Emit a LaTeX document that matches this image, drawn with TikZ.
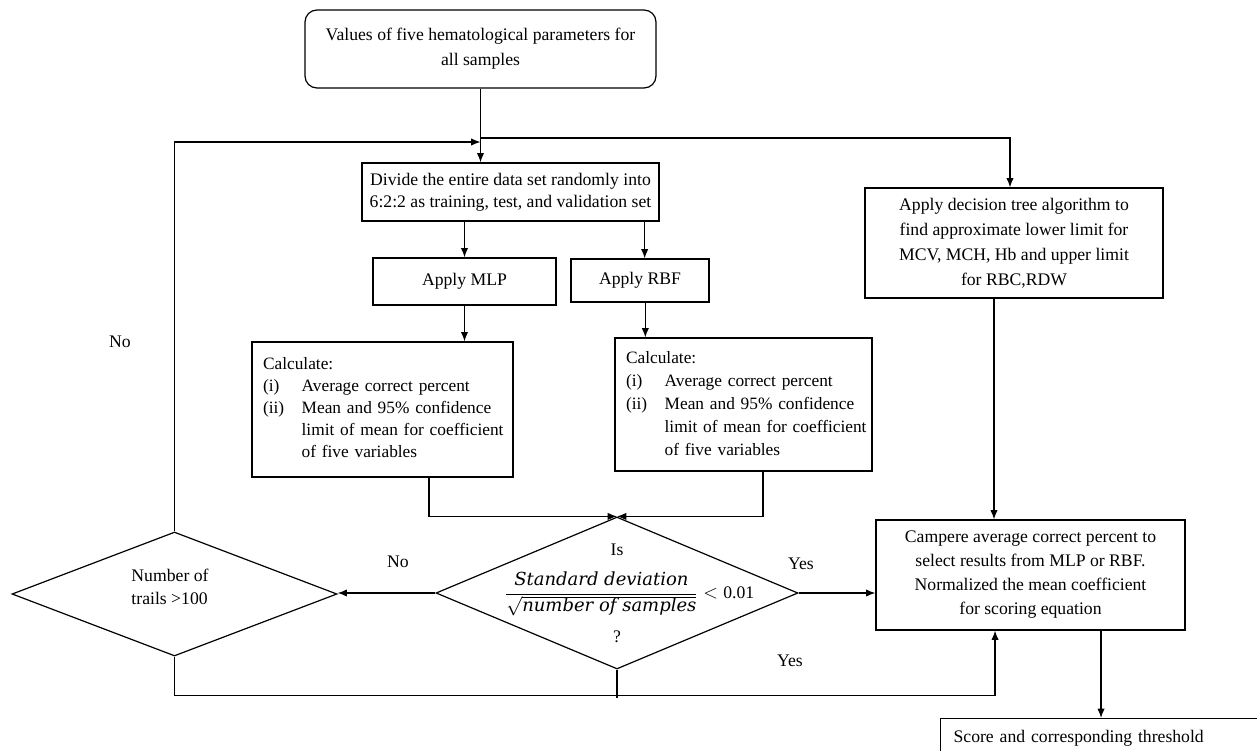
\documentclass[tikz,border=0pt]{standalone}
\usepackage{fontspec}
\setmainfont{Liberation Serif}
\newfontfamily\fracfont{DejaVu Serif}
\usetikzlibrary{arrows.meta,shapes.geometric}
\begin{document}
\begin{tikzpicture}[x=0.75pt,y=-0.75pt,
  every node/.style={font=\fontsize{13.25}{18}\selectfont},
  box/.style={draw, line width=0.9pt, inner sep=0pt, align=center},
  dia/.style={draw, diamond, line width=0.9pt, inner sep=0pt},
  arr/.style={line width=0.9pt, -{Latex[length=7pt,width=5.5pt]}},
  ln/.style={line width=0.9pt},
  lbl/.style={inner sep=0pt}]
\useasboundingbox (0,0) rectangle (1257,750);

% boxes
\node[box, rounded corners=9pt, minimum width=263.25pt, minimum height=58.5pt,
  font=\fontsize{13.25}{18.75}\selectfont] (top) at (480.5,49)
  {Values of five hematological parameters for\\all samples};
\node[box, minimum width=222.75pt, minimum height=43.5pt,
  font=\fontsize{13.25}{16.5}\selectfont] (div) at (510.5,192)
  {Divide the entire data set randomly into\\6:2:2 as training, test, and validation set};
\node[box, minimum width=137.25pt, minimum height=35.25pt] (mlp) at (464.5,281.5) {Apply MLP};
\node[box, minimum width=103.5pt, minimum height=32.25pt] (rbf) at (640,280.5) {Apply RBF};
\node[box, text width=179.25pt, inner xsep=8.25pt, minimum height=101.25pt, align=left,
  font=\fontsize{13}{16.5}\selectfont] (calc1) at (382.5,409.5)
  {\begin{tabular}{@{}p{29pt}@{}l@{}}
   \multicolumn{2}{@{}l@{}}{Calculate:}\\
   (i) & Average correct percent\\
   (ii) & Mean and 95\% confidence\\
   & limit of mean for coefficient\\
   & of five variables
   \end{tabular}};
\node[box, text width=176.25pt, inner xsep=8.25pt, minimum height=99.75pt, align=left,
  font=\fontsize{13}{17.25}\selectfont] (calc2) at (743.5,404.5)
  {\begin{tabular}{@{}p{29pt}@{}l@{}}
   \multicolumn{2}{@{}l@{}}{Calculate:}\\
   (i) & Average correct percent\\
   (ii) & Mean and 95\% confidence\\
   & limit of mean for coefficient\\
   & of five variables
   \end{tabular}};
\node[box, minimum width=223.5pt, minimum height=82.5pt,
  font=\fontsize{13.25}{18.75}\selectfont] (dt) at (1014,243)
  {Apply decision tree algorithm to\\find approximate lower limit for\\MCV, MCH, Hb and upper limit\\for RBC,RDW};
\node[box, minimum width=231.75pt, minimum height=82.5pt,
  font=\fontsize{13.25}{18}\selectfont] (cmp) at (1030.5,575)
  {Campere average correct percent to\\select results from MLP or RBF.\\Normalized the mean coefficient\\for scoring equation};
\node[box, anchor=north west, text width=240pt, inner xsep=9.75pt, minimum height=30pt,
  align=left] (sc) at (940,718) {Score and corresponding threshold};

% diamonds
\node[dia, minimum width=271.5pt, minimum height=114pt] (cd) at (617,593) {};
\node[dia, minimum width=243.75pt, minimum height=93pt] (ld) at (174.5,594) {};
\node[lbl, align=left, font=\fontsize{13.25}{17.25}\selectfont] (ldt) at (170,587) {Number of\\trails >100};
\node[lbl] (cis) at (617,550) {Is};
\node[lbl] (cfrac) at (629.5,594)
  {$\displaystyle\frac{\mbox{\fracfont\fontsize{13.5}{16}\selectfont\itshape Standard deviation}}{\sqrt{\mbox{\fracfont\fontsize{13.5}{16}\selectfont\itshape number of samples}}} < \mbox{0.01}$};
\node[lbl] (cq) at (617,637) {?};

% labels
\node[lbl] (no1) at (120,342) {No};
\node[lbl] (no2) at (398,562) {No};
\node[lbl] (yes1) at (801,564) {Yes};
\node[lbl] (yes2) at (790,661) {Yes};

% junctions
\coordinate (jL) at (480.5,142);
\coordinate (jR) at (480.5,138);

% connectors
\draw[arr] (top.south) -- (top.south |- div.north);
\draw[arr] (ld.north) |- (jL);
\draw[arr] (jR) -| ([xshift=-3pt]dt.north);
\draw[arr] (mlp.north |- div.south) -- (mlp.north);
\draw[arr] ([xshift=3.5pt]rbf.north |- div.south) -- ([xshift=3.5pt]rbf.north);
\draw[arr] (mlp.south) -- (mlp.south |- calc1.north);
\draw[arr] ([xshift=4pt]rbf.south) -- ([xshift=4pt]rbf.south |- calc2.north);
\draw[arr] ([xshift=34.9pt]calc1.south) |- (cd.north);
\draw[arr] ([xshift=14.6pt]calc2.south) |- (cd.north);
\draw[arr] (cd.west) -- (cd.west -| ld.east);
\draw[arr] (cd.east) -- (cd.east -| cmp.west);
\draw[arr] ([xshift=-15pt]dt.south) -- ([xshift=-15pt]dt.south |- cmp.north);
\draw[arr] (ld.south) -- ++(0,39) -| ([xshift=-26.6pt]cmp.south);
\draw[ln] (cd.south) -- ++(0,28);
\draw[arr] ([xshift=52.9pt]cmp.south) -- ([xshift=52.9pt]cmp.south |- sc.north);
\end{tikzpicture}
\end{document}
